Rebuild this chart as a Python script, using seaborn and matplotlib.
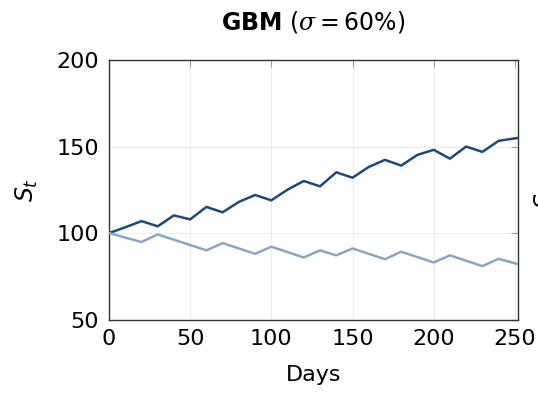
import pandas as pd
import matplotlib
matplotlib.use("Agg")
import matplotlib.pyplot as plt
import seaborn as sns

# valores
dias_alta = [0, 10, 20, 30, 40, 50, 60, 70, 80, 90, 100, 110, 120, 130, 140,
             150, 160, 170, 180, 190, 200, 210, 220, 230, 240, 252]
preco_alta = [100, 103.3, 106.9, 103.9, 110.2, 107.9, 115.1, 112, 118, 122,
              118.9, 125.1, 130.1, 127, 135.1, 132, 138.2, 142.3, 139, 145.2,
              148.1, 143, 150, 146.9, 153.3, 155]

dias_baixa = [0, 20, 30, 60, 70, 90, 100, 120, 130, 140, 150, 170, 180, 200,
              210, 230, 240, 252]
preco_baixa = [100, 94.8, 99.2, 90, 94.2, 88, 92.1, 85.9, 90, 87.1, 91.1,
               84.9, 89.2, 83, 87.1, 80.9, 85.1, 82]

x_ticks = [0, 50, 100, 150, 200, 250]
y_ticks = [50, 100, 150, 200]

df = pd.concat([
    pd.DataFrame({"Days": dias_alta, "S": preco_alta, "path": "up"}),
    pd.DataFrame({"Days": dias_baixa, "S": preco_baixa, "path": "down"}),
])

sns.set_style("white")
plt.rcParams["font.family"] = ["DejaVu Sans"]
plt.rcParams["text.color"] = "black"
plt.rcParams["mathtext.rm"] = "DejaVu Sans"
plt.rcParams["mathtext.bf"] = "DejaVu Sans:bold"
plt.rcParams["mathtext.it"] = "DejaVu Serif:italic"

fig = plt.figure(figsize=(5.38, 3.95), dpi=100)
ax = fig.add_axes([0.2026, 0.191, 0.7604, 0.657])

sns.lineplot(data=df, x="Days", y="S", hue="path", sort=False,
             palette={"up": "#1c4a7c", "down": "#8aa6c6"},
             linewidth=1.8, legend=False, ax=ax, zorder=3)

ax.set_xlim(0, 252)
ax.set_ylim(50, 200)
ax.set_xticks(x_ticks)
ax.set_yticks(y_ticks)
ax.grid(True, color="#ebebeb", linewidth=0.7)
ax.tick_params(direction="in", length=5, color="#999999", labelsize=16,
               labelcolor="black", top=True, right=True, pad=7)
for s in ax.spines.values():
    s.set_color("#333333")
    s.set_linewidth(1.0)

ax.set_xlabel("Days", fontsize=16, labelpad=11, color="black")
ax.set_ylabel(r"$S_t$", fontsize=17, labelpad=12, color="black",
              math_fontfamily="dejavusans")
ax.set_title(r"$\mathbf{GBM}$ $(\sigma = 60\%)$", fontsize=17, pad=22,
             math_fontfamily="custom")

# rotulo do painel vizinho, cortado na borda
fig.text(0.99, 0.5, r"$S_t$", rotation=90, fontsize=17, ha="left",
         va="center", math_fontfamily="dejavusans")

fig.savefig("out.png", dpi=100)
